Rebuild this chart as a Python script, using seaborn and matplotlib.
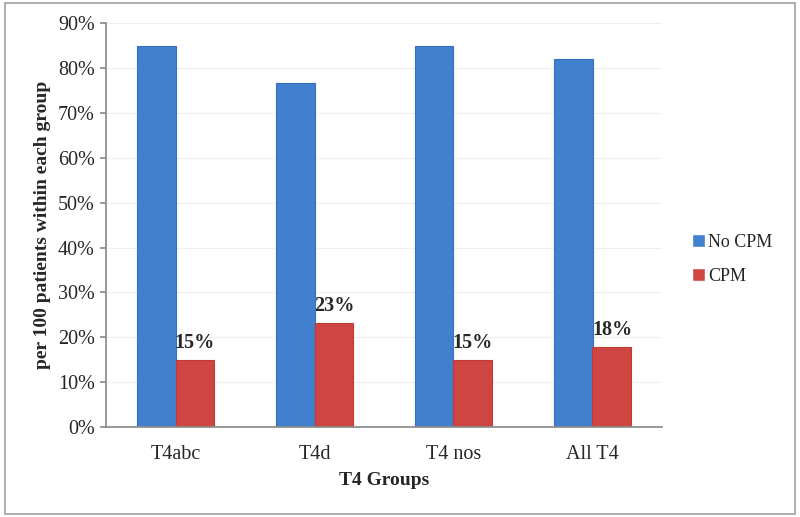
import matplotlib
matplotlib.use('Agg')
import matplotlib.pyplot as plt
import seaborn as sns
import pandas as pd
from matplotlib.ticker import FuncFormatter

groups = ["T4abc", "T4d", "T4 nos", "All T4"]
no_cpm = [85, 76.7, 85, 82.1]
cpm = [15, 23.2, 15, 17.9]
series = ["No CPM", "CPM"]
colors = ["#4180CC", "#CF4542"]
edges = ["#3570C0", "#C03A36"]

df = pd.DataFrame({
    "group": groups * 2,
    "series": [series[0]] * len(groups) + [series[1]] * len(groups),
    "value": no_cpm + cpm,
})

sns.set_theme(style="white")
plt.rcParams['font.family'] = ['Liberation Serif', 'DejaVu Serif']

fig = plt.figure(figsize=(8, 5.17), dpi=100)
ax = fig.add_axes([0.1325, 0.174, 0.695, 0.781])

sns.barplot(data=df, x="group", y="value", hue="series", palette=colors,
            width=0.56, saturation=1, ax=ax, legend=True)

for cont, ec in zip(ax.containers, edges):
    for bar in cont:
        bar.set_edgecolor(ec)
        bar.set_linewidth(0.8)

# data labels on CPM bars only
ax.bar_label(ax.containers[1], labels=[f"{round(v)}%" for v in cpm],
             padding=5, fontsize=14.5, fontweight='bold')

ax.set_ylim(0, 90)
ax.set_xlim(-0.5, 3.5)
ax.set_yticks(range(0, 91, 10))
ax.yaxis.set_major_formatter(FuncFormatter(lambda v, p: f"{int(v)}%"))
ax.grid(axis='y', color='#EFEFEF', linewidth=0.8)
ax.set_axisbelow(True)

for s in ['top', 'right']:
    ax.spines[s].set_visible(False)
ax.spines['left'].set_color('#8C8C8C')
ax.spines['bottom'].set_color('#8C8C8C')
ax.tick_params(axis='y', left=True, length=4, color='#8C8C8C', labelsize=14.5, pad=4)
ax.tick_params(axis='x', bottom=False, labelsize=14.5, pad=7)

ax.set_xlabel("T4 Groups", fontsize=14, fontweight='bold', labelpad=6)
ax.set_ylabel("per 100 patients within each group", fontsize=14, fontweight='bold', labelpad=5)

leg = ax.legend(loc='center left', bbox_to_anchor=(1.025, 0.415), frameon=False,
                fontsize=13, handlelength=0.7, handleheight=0.7, handletextpad=0.2,
                labelspacing=0.95)

# outer border
fig.patches.append(plt.Rectangle((0.006, 0.006), 0.988, 0.988, transform=fig.transFigure,
                                 fill=False, edgecolor='#A0A0A0', linewidth=1.2))

fig.savefig("out.png", dpi=100)
